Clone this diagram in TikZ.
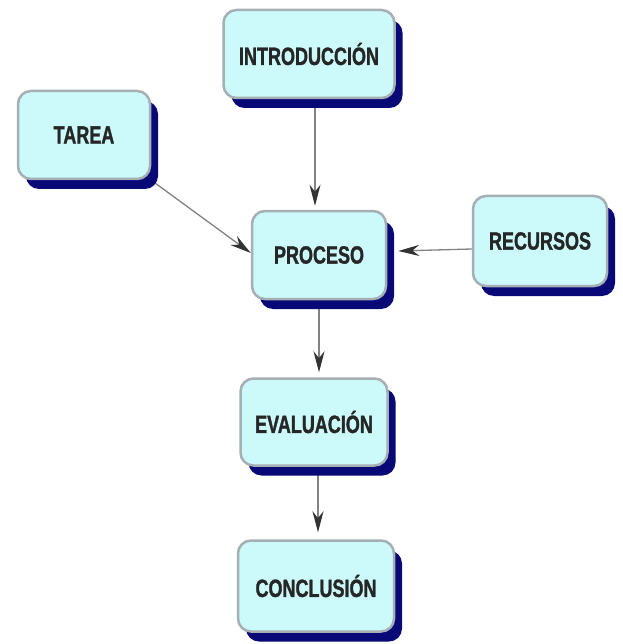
\documentclass[tikz,border=0pt]{standalone}
\usepackage{fontspec}
\usetikzlibrary{arrows.meta,shadows,backgrounds}
\newfontfamily\cardfont[FakeStretch=0.72,FakeBold=1.2]{Liberation Sans}
\definecolor{cardfill}{RGB}{204,249,249}
\definecolor{cardline}{RGB}{165,175,180}
\definecolor{cardshade}{RGB}{8,8,118}
\definecolor{linkgray}{RGB}{130,130,130}

\begin{document}
\begin{tikzpicture}[x=1pt,y=-1pt,
   card/.style={rectangle,rounded corners=13pt,fill=cardfill,draw=cardline,
      line width=2.5pt,inner sep=0pt,text=black!85,
      font=\cardfont\bfseries\fontsize{25}{25}\selectfont,
      drop shadow={shadow xshift=8pt,shadow yshift=-10pt,fill=cardshade,opacity=1}},
   link/.style={draw=linkgray,line width=1.3pt,
      -{Stealth[length=21pt,width=11pt,color=black!80]}}]
   \useasboundingbox (0,0) rectangle (622,644);
   \node[card,minimum width=171pt,minimum height=88pt] (intro) at (309,54) {INTRODUCCIÓN};
   \node[card,minimum width=132pt,minimum height=88pt] (tarea) at (84,135) {TAREA};
   \node[card,minimum width=134pt,minimum height=88pt] (proceso) at (319,255) {PROCESO};
   \node[card,minimum width=134pt,minimum height=90pt] (recursos) at (540,241) {RECURSOS};
   \node[card,minimum width=147pt,minimum height=87pt] (eval) at (314,422) {EVALUACIÓN};
   \node[card,minimum width=156pt,minimum height=91pt] (concl) at (316,586) {CONCLUSIÓN};
   % connectors behind the cards
   \begin{scope}[on background layer]
      \draw[link] ([xshift=6pt]intro.south) -- ([xshift=-4pt,yshift=4pt]proceso.north);
      \draw[link] (tarea.south east) -- ([yshift=2pt]proceso.west);
      \draw[link] ([yshift=-8pt]recursos.west) -- ([xshift=11pt,yshift=4pt]proceso.east);
      \draw[link] (proceso.south) -- ([xshift=5pt,yshift=5pt]eval.north);
      \draw[link] ([xshift=4pt]eval.south) -- ([xshift=2pt,yshift=7pt]concl.north);
   \end{scope}
\end{tikzpicture}
\end{document}
